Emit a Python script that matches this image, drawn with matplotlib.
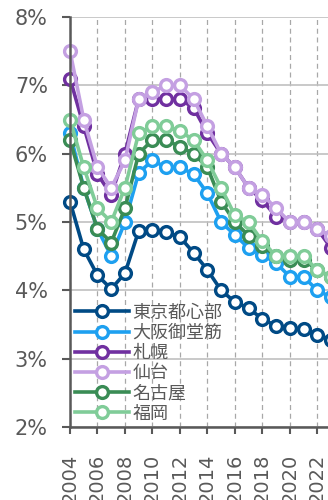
import matplotlib
matplotlib.use("Agg")
import matplotlib.pyplot as plt
import matplotlib.ticker as mtick

years = list(range(2004, 2024))
names = ["東京都心部", "大阪御堂筋", "札幌", "仙台", "名古屋", "福岡"]
tokyo = [5.3, 4.6, 4.22, 4.02, 4.25, 4.87, 4.88, 4.85, 4.78, 4.55, 4.3, 4.0, 3.83, 3.74, 3.58, 3.48, 3.45, 3.43, 3.35, 3.28]
osaka = [6.3, 5.5, 4.9, 4.5, 5.0, 5.72, 5.9, 5.8, 5.8, 5.7, 5.42, 5.0, 4.81, 4.62, 4.52, 4.4, 4.2, 4.2, 4.0, 3.9]
sapporo = [7.1, 6.4, 5.7, 5.4, 6.0, 6.8, 6.8, 6.8, 6.8, 6.67, 6.3, 6.0, 5.8, 5.5, 5.32, 5.08, 5.0, 5.0, 4.9, 4.62]
sendai = [7.5, 6.5, 5.8, 5.5, 5.9, 6.8, 6.9, 7.0, 7.0, 6.8, 6.4, 6.0, 5.8, 5.5, 5.4, 5.2, 5.0, 5.0, 4.9, 4.8]
nagoya = [6.2, 5.5, 4.9, 4.7, 5.2, 6.0, 6.2, 6.2, 6.1, 6.0, 5.8, 5.3, 5.0, 4.8, 4.65, 4.5, 4.45, 4.45, 4.3, 4.2]
fukuoka = [6.5, 5.8, 5.2, 5.0, 5.5, 6.3, 6.4, 6.4, 6.33, 6.2, 5.9, 5.5, 5.1, 5.0, 4.72, 4.5, 4.5, 4.5, 4.3, 4.2]
colors = ["#004a85", "#1ea0f0", "#7030a0", "#c4a0e2", "#3a8c55", "#80cc98"]

plt.rcParams['font.family'] = ['DejaVu Sans', 'Noto Sans CJK JP']

fig = plt.figure(figsize=(3.28, 5.0), dpi=100)
ax = fig.add_axes([70 / 328, 73 / 500, 261 / 328, 410 / 500])

series = [tokyo, osaka, sapporo, sendai, nagoya, fukuoka]
for name, vals, c in zip(names, series, colors):
    ax.plot(years, vals, '-o', color=c, lw=2.6, ms=8.5, mew=2.4,
            mfc='white', mec=c, label=name, clip_on=False)

ax.set_xlim(2004, 2023)
ax.set_ylim(2, 8)
ax.set_xticks(range(2004, 2024, 2))
ax.set_yticks(range(2, 9))
ax.yaxis.set_major_formatter(mtick.FormatStrFormatter('%d%%'))
ax.tick_params(axis='x', labelrotation=90, labelsize=14, colors='#595959',
               length=5, width=1.5, pad=14)
ax.tick_params(axis='y', labelsize=15, colors='#595959', length=6, width=1.5,
               pad=10)

ax.yaxis.grid(True, color='#c0c0c0', lw=1.2)
ax.xaxis.grid(True, color='#a8a8a8', lw=0.9, ls=(0, (4, 3)))
ax.set_axisbelow(True)
for s in ['top', 'right']:
    ax.spines[s].set_visible(False)
for s in ['left', 'bottom']:
    ax.spines[s].set_color('#595959')
    ax.spines[s].set_linewidth(1.8)

leg = ax.legend(loc='lower left', bbox_to_anchor=(0.0, 0.0), frameon=False,
                prop={'family': ['Noto Sans CJK JP'], 'size': 13},
                handlelength=3.0, handletextpad=0.2, labelspacing=0.12,
                borderaxespad=0.1, borderpad=0.15)
for t in leg.get_texts():
    t.set_color('#595959')

fig.savefig("out.png", dpi=100)
